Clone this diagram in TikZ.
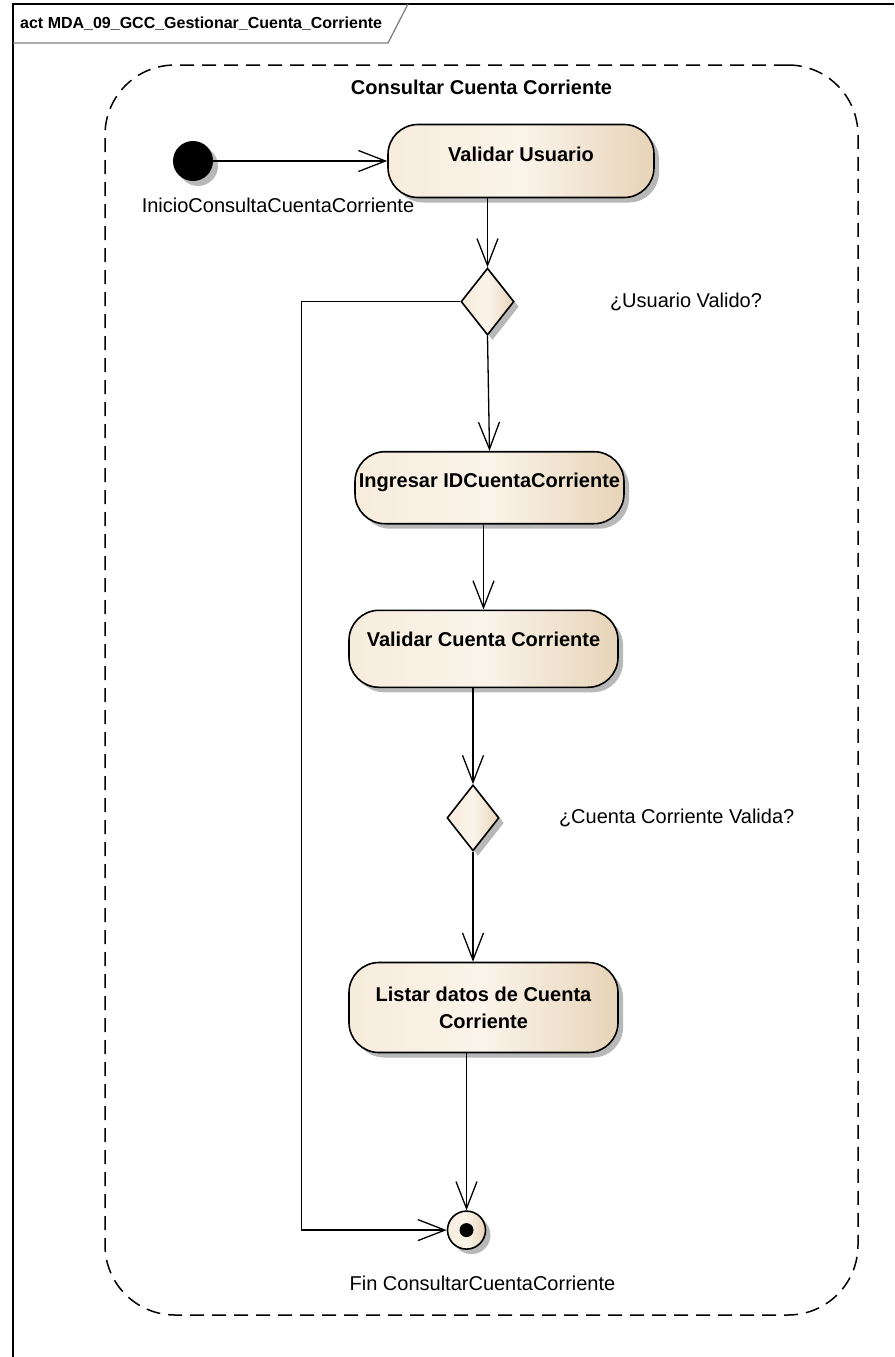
\documentclass[tikz,border=0pt]{standalone}
\usepackage{fontspec}
\setmainfont{Liberation Sans}
\usetikzlibrary{arrows.meta,positioning,shapes.geometric,shadows}
\definecolor{actleft}{HTML}{F7ECDC}
\definecolor{actmid}{HTML}{FBF4EA}
\definecolor{actright}{HTML}{E7D4B8}
\definecolor{tabgray}{HTML}{808080}

\begin{document}
\begin{tikzpicture}[x=1pt,y=-1pt,node distance=20pt,
 actfill/.style={left color=actleft,right color=actright,middle color=actmid},
 dropsh/.style={drop shadow={shadow xshift=5pt,shadow yshift=-5pt,fill=black!28,opacity=1}},
 activity/.style={draw,line width=1.6pt,rounded corners=30pt,dropsh,actfill,minimum width=269pt,minimum height=73pt,inner sep=0pt,align=center,font=\fontsize{20}{27}\selectfont\bfseries},
 oneline/.style={activity,text height=15pt,text depth=15pt},
 decision/.style={diamond,draw,line width=1.6pt,dropsh,actfill,minimum width=53pt,minimum height=67pt,inner sep=0pt},
 startnode/.style={circle,fill=black,dropsh,minimum size=40pt,inner sep=0pt},
 endnode/.style={circle,draw,line width=1.6pt,dropsh,actfill,minimum size=38pt,inner sep=0pt,path picture={\fill[black] (path picture bounding box.center) circle (7pt);}},
 region/.style={draw,line width=1.5pt,dash pattern=on 14pt off 8pt,rounded corners=70pt,minimum width=753pt,minimum height=1250pt,inner sep=0pt},
 lbl/.style={inner sep=0pt,font=\fontsize{20}{24}\selectfont},
 regtitle/.style={inner sep=0pt,font=\fontsize{20}{24}\selectfont\bfseries},
 tabtext/.style={inner sep=0pt,font=\fontsize{16}{19}\selectfont\bfseries},
 flow/.style={line width=1.3pt,-{Straight Barb[length=27pt,width=21pt,line width=1.3pt]}}]
\useasboundingbox (0,0) rectangle (894,1357);
% frame
\draw[line width=2pt] (894,4) -| (13,1357);
\draw[line width=1.3pt,tabgray] (13,43) -- (388,43) -- (408,4);
\node[tabtext,anchor=west] (acttitle) at (20,24) {act MDA\_09\_GCC\_Gestionar\_Cuenta\_Corriente};
% region
\node[region] (reg) at (481.5,690) {};
\node[regtitle,below=16pt of reg.north] (regname) {Consultar Cuenta Corriente};
% nodes
\node[startnode] (ini) at (193,161) {};
\node[lbl,below=17pt of ini,xshift=85pt] (inilbl) {InicioConsultaCuentaCorriente};
\node[oneline,right=174pt of ini,minimum width=266pt] (vu) {Validar Usuario};
\node[decision,below=69pt of vu,xshift=-33.5pt] (d1) {};
\node[lbl,right=95pt of d1] (d1lbl) {¿Usuario Valido?};
\node[oneline,below=115pt of d1,xshift=2pt,minimum height=72pt] (idc) {Ingresar IDCuentaCorriente};
\node[oneline,below=85pt of idc,xshift=-6pt,minimum height=77pt,text depth=19pt] (vcc) {Validar Cuenta Corriente};
\node[decision,below=96pt of vcc,xshift=-10.5pt,minimum width=52pt,minimum height=66pt] (d2) {};
\node[lbl,right=59pt of d2] (d2lbl) {¿Cuenta Corriente Valida?};
\node[activity,below=110pt of d2,xshift=10.5pt,minimum height=90pt] (ldc) {Listar datos de Cuenta\\Corriente};
\node[endnode,below=157pt of ldc,xshift=-17pt] (fin) {};
\node[lbl,below=26pt of fin,xshift=16pt] (finlbl) {Fin ConsultarCuentaCorriente};
% flows
\draw[flow] (ini.east) -- (ini.east -| vu.west);
\draw[flow] (d1.north |- vu.south) -- (d1.north);
\draw[flow] (d1.south) -- (idc.north);
\draw[flow] (vcc.north |- idc.south) -- (vcc.north);
\draw[flow] (d2.north |- vcc.south) -- (d2.north);
\draw[flow] (d2.south) -- (d2.south |- ldc.north);
\draw[flow] (fin.north |- ldc.south) -- (fin.north);
\draw[flow] (d1.west) -- ++(-159,0) |- (fin.west);
\end{tikzpicture}
\end{document}
